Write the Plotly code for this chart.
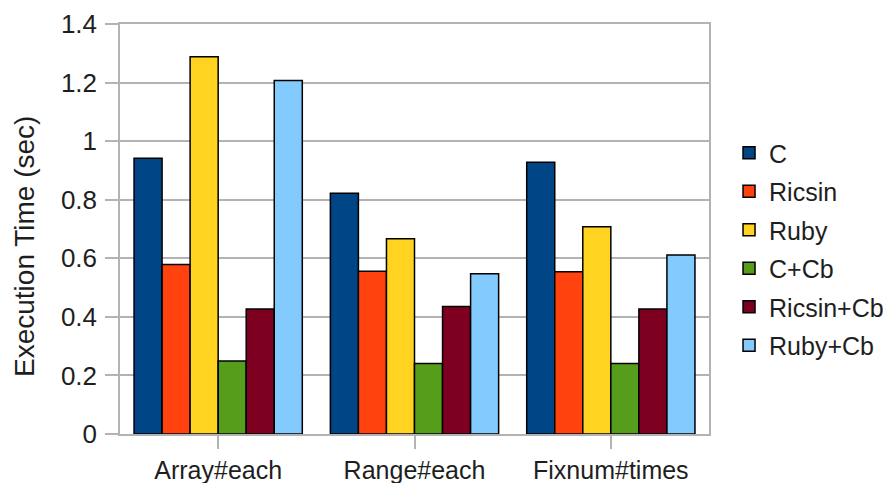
import plotly.graph_objects as go

# Benchmark categories and per-variant execution times (seconds)
categories = ["Array#each", "Range#each", "Fixnum#times"]
series_names = ["C", "Ricsin", "Ruby", "C+Cb", "Ricsin+Cb", "Ruby+Cb"]
c_times = [0.942, 0.822, 0.928]
ricsin_times = [0.579, 0.556, 0.554]
ruby_times = [1.288, 0.667, 0.708]
c_cb_times = [0.249, 0.241, 0.241]
ricsin_cb_times = [0.427, 0.435, 0.427]
ruby_cb_times = [1.207, 0.547, 0.611]
y_tick_values = [0, 0.2, 0.4, 0.6, 0.8, 1, 1.2, 1.4]

series_values = [c_times, ricsin_times, ruby_times, c_cb_times, ricsin_cb_times, ruby_cb_times]
colors = ["#004586", "#ff420e", "#ffd320", "#579d1c", "#7e0021", "#83caff"]

FONT = "Liberation Sans, Arial, sans-serif"
GRID = "#b3b3b3"
TEXT = "#1e1e1e"

fig = go.Figure()
for name, vals, col in zip(series_names, series_values, colors):
    fig.add_trace(go.Bar(
        name=name,
        x=categories,
        y=vals,
        marker=dict(color=col, line=dict(color="#000000", width=1.5)),
        legendgroup=name,
    ))

fig.update_layout(
    width=885,
    height=483,
    barmode="group",
    bargap=0.143,
    bargroupgap=0,
    plot_bgcolor="white",
    paper_bgcolor="white",
    margin=dict(l=120, r=176, t=24, b=49, autoexpand=False),
    font=dict(family=FONT, size=25, color=TEXT),
    showlegend=True,
    legend=dict(
        x=1.034, xanchor="left", xref="paper",
        y=0.451, yanchor="middle",
        font=dict(family=FONT, size=25, color=TEXT),
        tracegroupgap=3,
        itemwidth=30,
        bgcolor="rgba(0,0,0,0)",
    ),
)

fig.update_xaxes(
    automargin=False,
    showgrid=False,
    showline=True, linecolor=GRID, linewidth=1.5, mirror=True,
    ticks="outside", ticklen=13, tickcolor=GRID, tickwidth=1.5,
    ticklabelstandoff=0,
    tickfont=dict(family=FONT, size=25, color=TEXT),
)
fig.update_yaxes(
    automargin=False,
    range=[0, 1.4],
    tickvals=y_tick_values,
    showgrid=True, gridcolor=GRID, gridwidth=1.5,
    showline=True, linecolor=GRID, linewidth=1.5, mirror=True,
    ticks="outside", ticklen=13, tickcolor=GRID, tickwidth=1.5,
    ticklabelstandoff=3,
    tickfont=dict(family=FONT, size=26, color=TEXT),
    zeroline=False,
)

# Y-axis title placed as a rotated annotation
fig.add_annotation(
    text="Execution Time (sec)",
    xref="paper", yref="paper",
    x=-120 / 589 + 24 / 589, y=(434 - 247) / 410,
    xanchor="center", yanchor="middle",
    textangle=-90, showarrow=False,
    font=dict(family=FONT, size=28, color=TEXT),
)

fig.write_html("out.html")
